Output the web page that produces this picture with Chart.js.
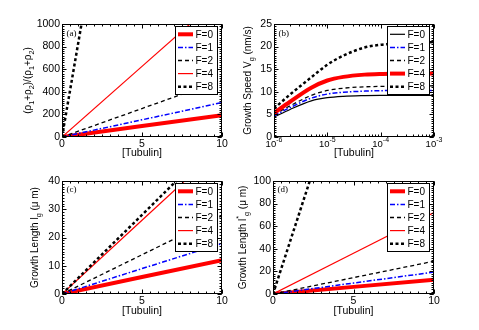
<!DOCTYPE html>
<html><head><meta charset="utf-8">
<script src="https://cdn.jsdelivr.net/npm/chart.js@4.4.1/dist/chart.umd.min.js"></script>
<style>
html,body{margin:0;padding:0;background:#fff;width:479px;height:330px;overflow:hidden;position:relative}
canvas{position:absolute;display:block}
</style></head><body>
<canvas id="ca" width="240" height="165" style="left:0;top:0"></canvas>
<canvas id="cb" width="251" height="165" style="left:228px;top:0"></canvas>
<canvas id="cc" width="240" height="165" style="left:0;top:165px"></canvas>
<canvas id="cd" width="251" height="165" style="left:228px;top:165px"></canvas>
<script>
// ---------------- DATA ----------------
const seriesLabels = ['F=0', 'F=1', 'F=2', 'F=4', 'F=8'];
const tubulin = [0, 5, 10];
const tubulinLog = [1e-6, 2e-6, 5e-6, 1e-5, 2e-5, 5e-5, 1e-4, 2e-4, 5e-4, 1e-3];

// (a) ratio
const ratioF0 = [0, 97, 193];
const ratioF1 = [0, 152, 305];
const ratioF2 = [0, 252, 505];
const ratioF4 = [0, 625, 1250];
const ratioF8 = [0, 4100, 8200];

// (b) growth speed (nm/s)
const speedF0 = [4.4, 6.1, 8.0, 8.7, 9.0, 9.15, 9.2, 9.2, 9.2, 9.2];
const speedF1 = [4.7, 6.5, 8.6, 9.5, 9.9, 10.15, 10.25, 10.3, 10.3, 10.3];
const speedF2 = [5.0, 6.9, 9.2, 10.3, 10.8, 11.1, 11.2, 11.25, 11.3, 11.3];
const speedF4 = [5.3, 7.8, 10.9, 12.5, 13.3, 13.8, 13.95, 14.0, 14.05, 14.05];
const speedF8 = [6.3, 9.4, 13.2, 16.0, 18.0, 19.8, 20.4, 20.7, 20.9, 21.0];

// (c) growth length (um)
const lengthF0 = [0, 6, 12];
const lengthF1 = [0, 9, 17.9];
const lengthF2 = [0, 13.9, 27.7];
const lengthF4 = [0, 26.1, 52.2];
const lengthF8 = [0, 28, 56];

// (d) growth length* (um)
const lengthStarF0 = [0, 6.3, 12.7];
const lengthStarF1 = [0, 9.7, 19.4];
const lengthStarF2 = [0, 14.5, 29];
const lengthStarF4 = [0, 36, 72];
const lengthStarF8 = [0, 219, 438];

// tick labels
const xTicksLin = [0, 5, 10];
const xTicksLog = [1e-6, 1e-5, 1e-4, 1e-3];
const xTickLogLabels = ['-6', '-5', '-4', '-3'];
const yTicksA = [0, 200, 400, 600, 800, 1000];
const yTicksB = [0, 5, 10, 15, 20, 25];
const yTicksC = [0, 10, 20, 30, 40];
const yTicksD = [0, 20, 40, 60, 80, 100];

// ---------------- STYLE ----------------
const SANS = "'Liberation Sans', Arial, Helvetica, sans-serif";
const SERIF = "'Liberation Serif', 'Times New Roman', serif";
const STY = {
  thickRed:   {borderColor: '#ff0000', borderWidth: 4,   borderDash: []},
  dashDotBlue:{borderColor: '#0000ff', borderWidth: 1.5, borderDash: [5, 2, 1.5, 2]},
  dashBlack:  {borderColor: '#000000', borderWidth: 1.3, borderDash: [4, 3]},
  thinRed:    {borderColor: '#ff0000', borderWidth: 1.2, borderDash: []},
  dotBlack:   {borderColor: '#000000', borderWidth: 2.5, borderDash: [3, 2.5]},
  solidBlack: {borderColor: '#000000', borderWidth: 1.2, borderDash: []}
};

function ds(i, xs, ys, sty, smooth) {
  return Object.assign({
    label: seriesLabels[i],
    data: xs.map((x, k) => ({x: x, y: ys[k]})),
    pointRadius: 0, pointHoverRadius: 0, fill: false, clip: 0,
    order: 10 - i,
    tension: 0,
    cubicInterpolationMode: smooth ? 'monotone' : 'default'
  }, sty);
}

function rangeTicks(min, max, step) {
  const out = [];
  for (let v = min; v <= max + 1e-9; v += step) out.push(+v.toFixed(6));
  return out;
}

// rich text, rotated -90deg, centered at (cx, cy)
function drawRich(ctx, segs, cx, cy, size) {
  ctx.save();
  ctx.translate(cx, cy);
  ctx.rotate(-Math.PI / 2);
  let total = 0;
  segs.forEach(s => {
    const sz = (s.sub || s.sup) ? size * 0.72 : size;
    ctx.font = sz + 'px ' + SANS;
    s._w = ctx.measureText(s.t).width;
    total += s._w;
  });
  let x = -total / 2;
  ctx.textBaseline = 'middle';
  ctx.textAlign = 'left';
  ctx.fillStyle = '#000';
  segs.forEach(s => {
    const sz = (s.sub || s.sup) ? size * 0.72 : size;
    ctx.font = sz + 'px ' + SANS;
    const dy = s.sub ? size * 0.38 : (s.sup ? -size * 0.38 : 0);
    ctx.fillText(s.t, x, dy);
    x += s._w;
  });
  ctx.restore();
}

const framePlugin = {
  id: 'frame',
  afterDatasetsDraw(chart) {
    const o = chart.options.plugins.frame;
    if (!o) return;
    const ctx = chart.ctx, a = chart.chartArea;
    const xs = chart.scales.x, ys = chart.scales.y;
    ctx.save();
    ctx.strokeStyle = '#000';
    ctx.lineWidth = 1;
    ctx.setLineDash([]);
    ctx.beginPath();
    const L = Math.round(a.left) + 0.5, R = Math.round(a.right) - 0.5;
    const T = Math.round(a.top) + 0.5, B = Math.round(a.bottom) - 0.5;
    const tick = (vals, scale, horiz, len) => {
      vals.forEach(v => {
        const p = Math.round(scale.getPixelForValue(v)) + 0.5;
        if (horiz) {
          if (p < L - 1 || p > R + 1) return;
          ctx.moveTo(p, B); ctx.lineTo(p, B - len);
          ctx.moveTo(p, T); ctx.lineTo(p, T + len);
        } else {
          if (p < T - 1 || p > B + 1) return;
          ctx.moveTo(L, p); ctx.lineTo(L + len, p);
          ctx.moveTo(R, p); ctx.lineTo(R - len, p);
        }
      });
    };
    tick(o.xMinor, xs, true, 2);
    tick(o.xMajor, xs, true, 4);
    tick(o.yMinor, ys, false, 2);
    tick(o.yMajor, ys, false, 4);
    ctx.stroke();
    ctx.strokeRect(L, T, R - L, B - T);

    // panel label
    ctx.fillStyle = '#000';
    ctx.font = '9px ' + SERIF;
    ctx.textAlign = 'left';
    ctx.textBaseline = 'middle';
    ctx.fillText(o.panel, a.left + 4.5, a.top + o.panelDy);

    // log tick labels
    if (o.logLabels) {
      o.logLabels.forEach((e, i) => {
        const px = xs.getPixelForValue(o.logTicks[i]);
        ctx.font = '9.5px ' + SANS;
        const w1 = ctx.measureText('10').width;
        ctx.font = '7px ' + SANS;
        const w2 = ctx.measureText(e).width;
        const x0 = px - (w1 + w2) / 2;
        ctx.font = '9.5px ' + SANS;
        ctx.textBaseline = 'middle';
        ctx.fillText('10', x0, a.bottom + 7);
        ctx.font = '7px ' + SANS;
        ctx.fillText(e, x0 + w1, a.bottom + 3);
      });
    }

    // legend
    const lw = 42, lh = 68;
    const lx = a.right - 5 - lw, ly = a.top + 2;
    ctx.fillStyle = '#fff';
    ctx.fillRect(lx, ly, lw, lh);
    ctx.strokeStyle = '#000';
    ctx.lineWidth = 1;
    ctx.strokeRect(Math.round(lx) + 0.5, Math.round(ly) + 0.5, lw, lh);
    chart.data.datasets.forEach((d, i) => {
      const cy = ly + 8.3 + i * 13.1;
      ctx.beginPath();
      ctx.strokeStyle = d.borderColor;
      ctx.lineWidth = d.borderWidth;
      ctx.setLineDash(d.borderDash || []);
      ctx.moveTo(lx + 3, cy);
      ctx.lineTo(lx + 18, cy);
      ctx.stroke();
      ctx.setLineDash([]);
      ctx.fillStyle = '#000';
      ctx.font = '10px ' + SANS;
      ctx.textAlign = 'left';
      ctx.textBaseline = 'middle';
      ctx.fillText(d.label, lx + 20.5, cy + 0.5);
    });

    // y title
    drawRich(ctx, o.ytitle, o.ytitleX, (a.top + a.bottom) / 2, 10);
    ctx.restore();
  }
};

function makeChart(id, cfg) {
  const tickFont = {family: SANS, size: 10.5};
  const xScale = cfg.log ? {
    type: 'logarithmic', min: 1e-6, max: 1e-3,
    ticks: {display: false},
    afterBuildTicks: s => { s.ticks = xTicksLog.map(v => ({value: v})); }
  } : {
    type: 'linear', min: 0, max: 10,
    ticks: {display: true, color: '#000', font: tickFont, padding: 1, autoSkip: false, maxRotation: 0},
    afterBuildTicks: s => { s.ticks = xTicksLin.map(v => ({value: v})); }
  };
  Object.assign(xScale, {
    grid: {display: false, drawTicks: false},
    border: {display: false},
    title: {display: true, text: '[Tubulin]', color: '#000', font: {family: SANS, size: 10.5}, padding: {top: 0, bottom: cfg.titlePad}},
    afterFit: s => { s.height = cfg.xH; }
  });
  const yTicks = cfg.yTicks;
  const yScale = {
    type: 'linear', min: yTicks[0], max: yTicks[yTicks.length - 1],
    grid: {display: false, drawTicks: false},
    border: {display: false},
    ticks: {color: '#000', font: tickFont, padding: 2, autoSkip: false,
            callback: v => String(v)},
    afterBuildTicks: s => { s.ticks = yTicks.map(v => ({value: v})); },
    afterFit: s => { s.width = cfg.yW; }
  };
  const ystep = yTicks[1] - yTicks[0];
  let xMinor;
  if (cfg.log) {
    xMinor = [];
    [1e-6, 1e-5, 1e-4].forEach(d => { for (let k = 2; k <= 9; k++) xMinor.push(d * k); });
  } else {
    xMinor = rangeTicks(0, 10, 0.5);
  }
  return new Chart(document.getElementById(id), {
    type: 'line',
    data: {datasets: cfg.datasets},
    options: {
      responsive: false,
      animation: false,
      devicePixelRatio: 1,
      events: [],
      layout: {padding: {top: cfg.top, right: cfg.right, left: 0, bottom: 0}},
      scales: {x: xScale, y: yScale},
      plugins: {
        legend: {display: false},
        tooltip: {enabled: false},
        frame: {
          xMajor: cfg.log ? xTicksLog : xTicksLin,
          xMinor: xMinor,
          yMajor: yTicks,
          yMinor: rangeTicks(yTicks[0], yTicks[yTicks.length - 1], ystep / 10),
          panel: cfg.panel, panelDy: cfg.panelDy,
          ytitle: cfg.ytitle, ytitleX: cfg.ytitleX,
          logLabels: cfg.log ? xTickLogLabels : null,
          logTicks: xTicksLog
        }
      }
    },
    plugins: [framePlugin]
  });
}

makeChart('ca', {
  top: 24, right: 18, yW: 62, xH: 28, titlePad: 5.2,
  yTicks: yTicksA, panel: '(a)', panelDy: 10, ytitleX: 28,
  ytitle: [{t: '(ρ'}, {t: '1', sub: 1}, {t: '+ρ'}, {t: '2', sub: 1}, {t: ')/(ρ'}, {t: '1', sub: 1}, {t: '+ρ'}, {t: '2', sub: 1}, {t: ')'}],
  datasets: [
    ds(0, tubulin, ratioF0, STY.thickRed),
    ds(1, tubulin, ratioF1, STY.dashDotBlue),
    ds(2, tubulin, ratioF2, STY.dashBlack),
    ds(3, tubulin, ratioF4, STY.thinRed),
    ds(4, tubulin, ratioF8, STY.dotBlack)
  ]
});

makeChart('cb', {
  log: true,
  top: 24, right: 45, yW: 46, xH: 28, titlePad: 5.2,
  yTicks: yTicksB, panel: '(b)', panelDy: 10, ytitleX: 20,
  ytitle: [{t: 'Growth Speed V'}, {t: 'g', sub: 1}, {t: ' (nm/s)'}],
  datasets: [
    ds(0, tubulinLog, speedF0, STY.solidBlack, true),
    ds(1, tubulinLog, speedF1, STY.dashDotBlue, true),
    ds(2, tubulinLog, speedF2, STY.dashBlack, true),
    ds(3, tubulinLog, speedF4, STY.thickRed, true),
    ds(4, tubulinLog, speedF8, STY.dotBlack, true)
  ]
});

makeChart('cc', {
  top: 16, right: 18, yW: 62, xH: 36, titlePad: 13,
  yTicks: yTicksC, panel: '(c)', panelDy: 9, ytitleX: 35,
  ytitle: [{t: 'Growth Length l'}, {t: 'g', sub: 1}, {t: ' (μ m)'}],
  datasets: [
    ds(0, tubulin, lengthF0, STY.thickRed),
    ds(1, tubulin, lengthF1, STY.dashDotBlue),
    ds(2, tubulin, lengthF2, STY.dashBlack),
    ds(3, tubulin, lengthF4, STY.thinRed),
    ds(4, tubulin, lengthF8, STY.dotBlack)
  ]
});

makeChart('cd', {
  top: 16, right: 45, yW: 45, xH: 36, titlePad: 13,
  yTicks: yTicksD, panel: '(d)', panelDy: 9, ytitleX: 15,
  ytitle: [{t: 'Growth Length l'}, {t: '*', sup: 1}, {t: 'g', sub: 1}, {t: ' (μ m)'}],
  datasets: [
    ds(0, tubulin, lengthStarF0, STY.thickRed),
    ds(1, tubulin, lengthStarF1, STY.dashDotBlue),
    ds(2, tubulin, lengthStarF2, STY.dashBlack),
    ds(3, tubulin, lengthStarF4, STY.thinRed),
    ds(4, tubulin, lengthStarF8, STY.dotBlack)
  ]
});
</script>
</body></html>
